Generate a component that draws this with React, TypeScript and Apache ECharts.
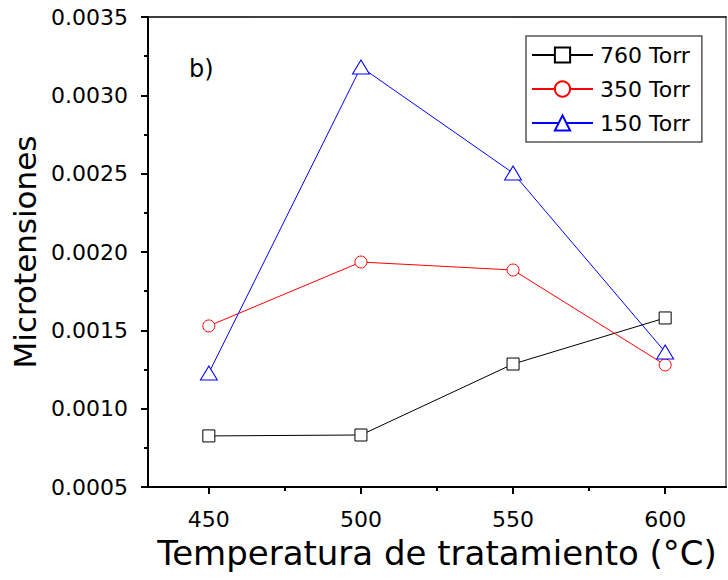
import React, { useEffect, useRef } from "react";
import * as echarts from "echarts";

const temperatures = [450, 500, 550, 600];
const torr760 = [0.000826, 0.000832, 0.001285, 0.001579];
const torr350 = [0.001528, 0.001936, 0.001885, 0.001279];
const torr150 = [0.001228, 0.003181, 0.002504, 0.001362];
const seriesNames = ["760 Torr", "350 Torr", "150 Torr"];
const xMajorTicks = [450, 500, 550, 600];
const xMinorTicks = [475, 525, 575];

const FONT = "DejaVu Sans";

export default function App() {
  const ref = useRef<HTMLDivElement>(null);
  useEffect(() => {
    const chart = echarts.init(ref.current!, null, { renderer: "svg" });
    const pair = (vals: number[]) => temperatures.map((t, i) => [t, vals[i]]);
    chart.setOption({
      animation: false,
      backgroundColor: "#ffffff",
      grid: { left: 148, right: 2, top: 17, bottom: 93, containLabel: false, outerBoundsMode: "none" },
      xAxis: [
        {
          type: "value",
          position: "bottom",
          min: 430,
          max: 620,
          axisLine: { show: true, lineStyle: { color: "#000", width: 2 } },
          axisTick: { show: true, inside: false, length: 7, lineStyle: { color: "#000", width: 2 }, customValues: xMajorTicks },
          axisLabel: { customValues: xMajorTicks, margin: 21, fontFamily: FONT, fontSize: 22, color: "#000" },
          splitLine: { show: false },
          name: "Temperatura de tratamiento (°C)",
          nameLocation: "middle",
          nameGap: 49,
          nameTextStyle: { fontFamily: FONT, fontSize: 34, color: "#000" },
        },
        {
          type: "value",
          position: "bottom",
          min: 430,
          max: 620,
          axisLine: { show: false },
          axisTick: { show: true, inside: false, length: 4, lineStyle: { color: "#000", width: 2 }, customValues: xMinorTicks },
          axisLabel: { show: false },
          splitLine: { show: false },
        },
        {
          type: "value",
          position: "top",
          min: 430,
          max: 620,
          axisLine: { show: true, lineStyle: { color: "#000", width: 1.5 } },
          axisTick: { show: false },
          axisLabel: { show: false },
          splitLine: { show: false },
        },
      ],
      yAxis: [
        {
          type: "value",
          position: "left",
          min: 0.0005,
          max: 0.0035,
          interval: 0.0005,
          axisLine: { show: true, lineStyle: { color: "#000", width: 2 } },
          axisTick: { show: true, inside: false, length: 7, lineStyle: { color: "#000", width: 2 } },
          minorTick: { show: true, splitNumber: 2, length: 4, lineStyle: { color: "#000", width: 2 } },
          axisLabel: {
            margin: 20,
            fontFamily: FONT,
            fontSize: 22,
            color: "#000",
            formatter: (v: number) => v.toFixed(4),
          },
          splitLine: { show: false },
          name: "Microtensiones",
          nameLocation: "middle",
          nameGap: 107,
          nameTextStyle: { fontFamily: FONT, fontSize: 31, color: "#000" },
        },
        {
          type: "value",
          position: "right",
          min: 0.0005,
          max: 0.0035,
          axisLine: { show: true, lineStyle: { color: "#888", width: 2 } },
          axisTick: { show: false },
          axisLabel: { show: false },
          splitLine: { show: false },
        },
      ],
      legend: {
        data: seriesNames,
        orient: "vertical",
        left: 526,
        top: 36,
        padding: [8, 12, 8, 5],
        itemWidth: 61,
        itemHeight: 19,
        itemGap: 12,
        borderColor: "#555",
        borderWidth: 1.5,
        textStyle: { fontFamily: FONT, fontSize: 22, color: "#000", padding: [0, 0, 0, 2] },
      },
      graphic: [
        {
          type: "text",
          left: 189,
          top: 57,
          style: { text: "b)", fontFamily: FONT, fontSize: 24, fill: "#000" },
        },
      ],
      series: [
        {
          name: seriesNames[0],
          type: "line",
          xAxisIndex: 0,
          yAxisIndex: 0,
          data: pair(torr760),
          symbol: "rect",
          symbolSize: 12,
          lineStyle: { color: "#000", width: 1 },
          itemStyle: { color: "#fff", borderColor: "#000", borderWidth: 1 },
          color: "#000",
        },
        {
          name: seriesNames[1],
          type: "line",
          xAxisIndex: 0,
          yAxisIndex: 0,
          data: pair(torr350),
          symbol: "circle",
          symbolSize: 12,
          lineStyle: { color: "#ff0000", width: 1 },
          itemStyle: { color: "#fff", borderColor: "#ff0000", borderWidth: 1 },
          color: "#ff0000",
        },
        {
          name: seriesNames[2],
          type: "line",
          xAxisIndex: 0,
          yAxisIndex: 0,
          data: pair(torr150),
          symbol: "triangle",
          symbolSize: [17, 14],
          lineStyle: { color: "#0000ff", width: 1 },
          itemStyle: { color: "#fff", borderColor: "#0000ff", borderWidth: 1 },
          color: "#0000ff",
        },
      ],
    });
    return () => chart.dispose();
  }, []);
  return <div ref={ref} style={{ width: 728, height: 580, position: "absolute", left: 0, top: 0 }} />;
}
